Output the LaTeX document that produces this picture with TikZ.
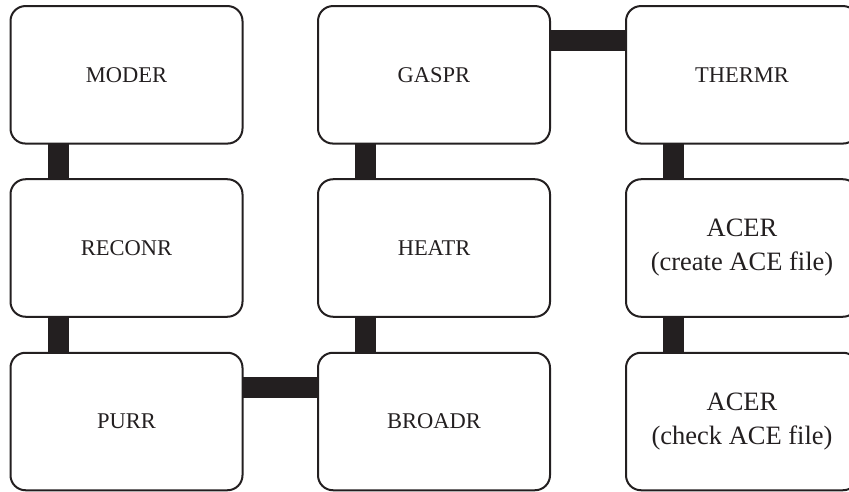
\documentclass[tikz,border=0pt]{standalone}
\usepackage{fontspec}
\setmainfont{Liberation Serif}
\definecolor{ink}{HTML}{231F20}
\begin{document}
\begin{tikzpicture}[x=1pt,y=-1pt,
  module/.style={draw=ink, line width=2pt, rounded corners=15pt,
    minimum width=232pt, minimum height=137.5pt, inner sep=0pt,
    outer sep=0pt, align=center, text=ink,
    font=\fontsize{22.5}{27}\selectfont},
  bigtext/.style={font=\fontsize{26.5}{34}\selectfont},
  link/.style={draw=ink, line width=21pt}]
\useasboundingbox (0,0) rectangle (849,492);
\clip (0,0) rectangle (849,492);
% processing modules, three columns by three rows
\node[module] (moder)  at (126.5,74.8) {MODER};
\node[module] (reconr) at (126.5,248)  {RECONR};
\node[module] (purr)   at (126.5,421.5) {PURR};
\node[module] (gaspr)  at (434,74.8)  {GASPR};
\node[module] (heatr)  at (434,248)   {HEATR};
\node[module] (broadr) at (434,421.5) {BROADR};
\node[module] (thermr) at (742,74.8)  {THERMR};
\node[module,bigtext] (acerc)  at (742,248)   {ACER\\(create ACE file)};
\node[module,bigtext] (acerk)  at (742,421.5) {ACER\\(check ACE file)};
% thick bars joining consecutive modules
\draw[link] ([xshift=-68.5pt]moder.south) -- ([xshift=-68.5pt]reconr.north);
\draw[link] ([xshift=-68.5pt]reconr.south) -- ([xshift=-68.5pt]purr.north);
\draw[link] ([yshift=34.5pt]purr.east) -- ([yshift=34.5pt]broadr.west);
\draw[link] ([xshift=-68.5pt]broadr.north) -- ([xshift=-68.5pt]heatr.south);
\draw[link] ([xshift=-68.5pt]heatr.north) -- ([xshift=-68.5pt]gaspr.south);
\draw[link] ([yshift=34.3pt]gaspr.east) -- ([yshift=34.3pt]thermr.west);
\draw[link] ([xshift=-68.5pt]thermr.south) -- ([xshift=-68.5pt]acerc.north);
\draw[link] ([xshift=-68.5pt]acerc.south) -- ([xshift=-68.5pt]acerk.north);
\end{tikzpicture}
\end{document}
